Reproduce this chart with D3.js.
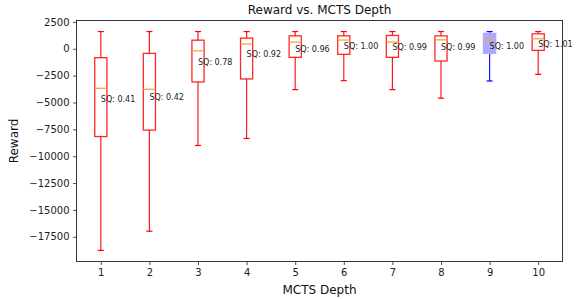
<!DOCTYPE html>
<html>
<head>
<meta charset="utf-8">
<script src="https://cdn.jsdelivr.net/npm/d3@7"></script>
<style>
  body { margin: 0; background: #fff; }
  svg { display: block; font-family: "DejaVu Sans", sans-serif; }
</style>
</head>
<body>
<svg id="chart" width="576" height="299"></svg>
<script>
const depths = [1, 2, 3, 4, 5, 6, 7, 8, 9, 10];
const whiskerHigh = [1600, 1600, 1600, 1600, 1600, 1600, 1600, 1600, 1600, 1600];
const q3Values = [-830, -430, 800, 990, 1200, 1200, 1240, 1200, 1430, 1390];
const medianValues = [-3680, -3770, -190, 440, 620, 810, 620, 830, 810, 930];
const q1Values = [-8170, -7570, -3090, -2810, -800, -520, -800, -1140, -430, -150];
const whiskerLow = [-18770, -16980, -9000, -8350, -3800, -2970, -3800, -4600, -3000, -2380];
const labelValues = [-4670, -4550, -1260, -460, -60, 250, 160, 190, 280, 460];
const sqLabels = ["SQ: 0.41", "SQ: 0.42", "SQ: 0.78", "SQ: 0.92", "SQ: 0.96", "SQ: 1.00", "SQ: 0.99", "SQ: 0.99", "SQ: 1.00", "SQ: 1.01"];
const highlighted = [false, false, false, false, false, false, false, false, true, false];
const yTicks = [2500, 0, -2500, -5000, -7500, -10000, -12500, -15000, -17500];

const svg = d3.select("#chart");
const margin = { left: 76.5, right: 13.5, top: 20.5, bottom: 37.5 };
const W = 576, H = 299;
const x = d3.scaleLinear().domain([0.5, 10.5]).range([margin.left, W - margin.right]);
const y = d3.scaleLinear().domain([-19800, 2630]).range([H - margin.bottom, margin.top]);

const data = depths.map((d, i) => ({
  d, hi: whiskerHigh[i], q3: q3Values[i], med: medianValues[i], q1: q1Values[i],
  lo: whiskerLow[i], lab: labelValues[i], text: sqLabels[i], hl: highlighted[i]
}));

const boxHalf = (x(1.125) - x(1));
const capHalf = boxHalf / 2;

const g = svg.append("g");

data.forEach(b => {
  const cx = x(b.d);
  const col = b.hl ? "#0000ff" : "#ff0000";
  const grp = g.append("g");
  // whiskers
  grp.append("line").attr("x1", cx).attr("x2", cx).attr("y1", y(b.q3)).attr("y2", y(b.hi))
    .attr("stroke", col).attr("stroke-width", 1.2).attr("stroke-opacity", 0.9);
  grp.append("line").attr("x1", cx).attr("x2", cx).attr("y1", y(b.q1)).attr("y2", y(b.lo))
    .attr("stroke", col).attr("stroke-width", 1.2).attr("stroke-opacity", 0.9);
  // caps
  [b.hi, b.lo].forEach(v => {
    grp.append("line").attr("x1", cx - capHalf).attr("x2", cx + capHalf).attr("y1", y(v)).attr("y2", y(v))
      .attr("stroke", col).attr("stroke-width", 1.2);
  });
  // box
  grp.append("rect").attr("x", cx - boxHalf).attr("width", 2 * boxHalf)
    .attr("y", y(b.q3)).attr("height", y(b.q1) - y(b.q3))
    .attr("fill", b.hl ? "#aaaaff" : "none")
    .attr("stroke", b.hl ? "#aaaaff" : col).attr("stroke-width", 1.3).attr("stroke-opacity", b.hl ? 1 : 0.85);
  // median
  grp.append("line").attr("x1", cx - boxHalf).attr("x2", cx + boxHalf).attr("y1", y(b.med)).attr("y2", y(b.med))
    .attr("stroke", "#ff9f3f").attr("stroke-width", 1.3);
  // label
  grp.append("text").attr("x", cx).attr("y", y(b.lab)).attr("dy", "0.35em")
    .attr("font-size", 8).attr("fill", "#222").text(b.text);
});

// axes
const yAxis = d3.axisLeft(y).tickValues(yTicks).tickSize(3.5).tickPadding(3.5)
  .tickFormat(d => d < 0 ? "\u2212" + Math.abs(d) : String(d));
const xAxis = d3.axisBottom(x).tickValues(depths).tickSize(3.5).tickPadding(3.5);

const ya = svg.append("g").attr("transform", `translate(${margin.left},0)`).call(yAxis);
const xa = svg.append("g").attr("transform", `translate(0,${H - margin.bottom})`).call(xAxis);
[ya, xa].forEach(a => {
  a.select(".domain").remove();
  a.selectAll("text").attr("font-size", 10).attr("fill", "#222").attr("font-family", "DejaVu Sans");
  a.selectAll("line").attr("stroke", "#222").attr("stroke-width", 0.8);
});

// frame
svg.append("rect").attr("x", margin.left).attr("y", margin.top)
  .attr("width", W - margin.left - margin.right).attr("height", H - margin.top - margin.bottom)
  .attr("fill", "none").attr("stroke", "#222").attr("stroke-width", 0.9);

// titles
svg.append("text").attr("x", (margin.left + W - margin.right) / 2).attr("y", 14)
  .attr("text-anchor", "middle").attr("font-size", 12).attr("fill", "#111").text("Reward vs. MCTS Depth");
svg.append("text").attr("x", (margin.left + W - margin.right) / 2).attr("y", 294)
  .attr("text-anchor", "middle").attr("font-size", 12).attr("fill", "#111").text("MCTS Depth");
svg.append("text").attr("transform", `translate(18,${(margin.top + H - margin.bottom) / 2}) rotate(-90)`)
  .attr("text-anchor", "middle").attr("font-size", 12).attr("fill", "#111").text("Reward");
</script>
</body>
</html>
